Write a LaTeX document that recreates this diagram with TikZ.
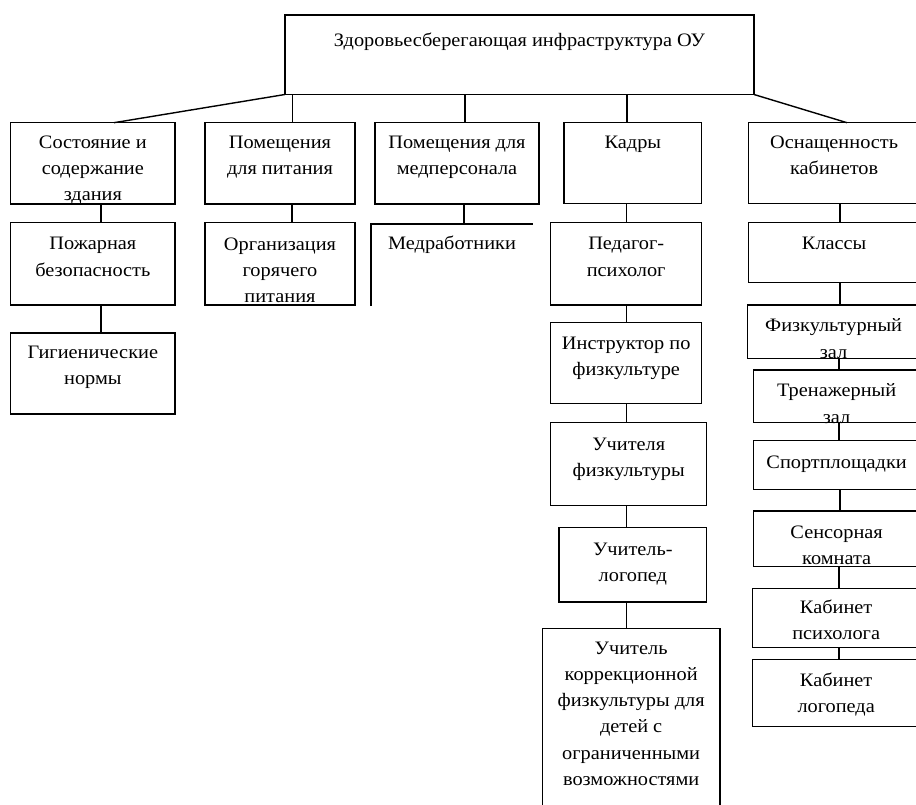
\documentclass[tikz,border=0pt]{standalone}
\usepackage{fontspec}
\setmainfont[FakeStretch=1.07]{Liberation Serif}
\usetikzlibrary{calc}
\tikzset{
  boxst/.style={draw=black, line width=1.4pt, fill=white, inner sep=0pt, outer sep=0pt, rectangle},
  openst/.style={inner sep=0pt, outer sep=0pt, rectangle},
  txtst/.style={inner sep=0pt, outer sep=0pt, align=center, text=black,
     font=\fontsize{19}{26.3}\selectfont},
  link/.style={draw=black, line width=1.4pt}
}
% name, x1, y1, x2, y2, text shift, text
\newcommand\bx[7]{%
  \node[boxst, minimum width={#4-#2}, minimum height={#5-#3}, anchor=north west] (#1) at (#2,#3) {};
  \node[txtst, anchor=north] (#1t) at ([yshift=-#6pt]#1.north) {\rule{0pt}{14pt}#7};
}
\begin{document}
\begin{tikzpicture}[x=1pt,y=-1pt]
\useasboundingbox (0,0) rectangle (916,805);
\fill[white] (0,0) rectangle (916,805);
\clip (0,0) rectangle (916,805);

\bx{top}{285}{15}{754}{94.5}{18}{Здоровьесберегающая инфраструктура ОУ}
\bx{b1}{10.7}{122.7}{175}{204}{11.6}{Состояние и\\содержание\\здания}
\bx{b2}{205}{122.7}{355}{204}{11.6}{Помещения\\для питания}
\bx{b3}{375}{122.7}{539}{204}{11.6}{Помещения для\\медперсонала}
\bx{b4}{564}{122.7}{701.7}{203.3}{11.6}{Кадры}
\bx{b5}{748.3}{122.7}{920}{203.3}{11.6}{Оснащенность\\кабинетов}

\bx{pozh}{10.7}{222.7}{175}{305}{13.3}{Пожарная\\безопасность}
\bx{gig}{10.7}{333}{175}{414}{11.3}{Гигиенические\\нормы}
\bx{org}{205}{222.7}{355}{305}{13.3}{Организация\\горячего\\питания}

% open box
\node[openst, minimum width=162pt, minimum height=82pt, anchor=north west] (med) at (371,224) {};
\node[txtst, anchor=north] (medt) at ([yshift=-12pt]med.north) {\rule{0pt}{14pt}Медработники};
\draw[link] (med.south west) -- (med.north west) -- (med.north east);

\bx{ped}{550.7}{222.7}{701.7}{305}{13.3}{Педагог-\\психолог}
\bx{instr}{550.7}{322.7}{701.7}{403.3}{12.6}{Инструктор по\\физкультуре}
\bx{uchf}{550.7}{422.7}{706.7}{505.7}{13.3}{Учителя\\физкультуры}
\bx{ulog}{559}{527.7}{706.7}{602}{13.3}{Учитель-\\логопед}
\bx{korr}{542.3}{628.3}{720}{830}{11.7}{Учитель\\коррекционной\\физкультуры для\\детей с\\ограниченными\\возможностями}

\bx{klass}{748.3}{222.7}{920}{282.3}{13.3}{Классы}
\bx{fiz}{747.3}{305}{920}{358.3}{12.7}{Физкультурный\\зал}
\bx{tren}{753.3}{370}{920}{422.7}{12.7}{Тренажерный\\зал}
\bx{sport}{753.3}{440.7}{920}{489.3}{13.6}{Спортплощадки}
\bx{sens}{753.3}{511}{920}{566.7}{13.3}{Сенсорная\\комната}
\bx{kpsy}{752.3}{588.3}{920}{647.7}{11}{Кабинет\\психолога}
\bx{klog}{752.3}{659.3}{920}{726.7}{12.7}{Кабинет\\логопеда}

% connectors
\draw[link] (top.south west) -- (b1.north -| 114,0);
\draw[link] (top.south -| 292.4,0) -- (b2.north -| 292.4,0);
\draw[link] (top.south -| 465,0) -- (b3.north -| 465,0);
\draw[link] (top.south -| 627,0) -- (b4.north -| 627,0);
\draw[link] (top.south east) -- (b5.north -| 847,0);

\draw[link] (b1.south -| 101,0) -- (pozh.north -| 101,0);
\draw[link] (pozh.south -| 101,0) -- (gig.north -| 101,0);
\draw[link] (b2.south -| 292,0) -- (org.north -| 292,0);
\draw[link] (b3.south -| 464,0) -- (med.north -| 464,0);

\draw[link] (b4.south -| 626.7,0) -- (ped.north -| 626.7,0);
\draw[link] (ped.south -| 626.7,0) -- (instr.north -| 626.7,0);
\draw[link] (instr.south -| 626.7,0) -- (uchf.north -| 626.7,0);
\draw[link] (uchf.south -| 626.7,0) -- (ulog.north -| 626.7,0);
\draw[link] (ulog.south -| 626.7,0) -- (korr.north -| 626.7,0);

\draw[link] (b5.south -| 840,0) -- (klass.north -| 840,0);
\draw[link] (klass.south -| 840,0) -- (fiz.north -| 840,0);
\draw[link] (fiz.south -| 839,0) -- (tren.north -| 839,0);
\draw[link] (tren.south -| 839,0) -- (sport.north -| 839,0);
\draw[link] (sport.south -| 840,0) -- (sens.north -| 840,0);
\draw[link] (sens.south -| 839,0) -- (kpsy.north -| 839,0);
\draw[link] (kpsy.south -| 839,0) -- (klog.north -| 839,0);
\end{tikzpicture}
\end{document}
